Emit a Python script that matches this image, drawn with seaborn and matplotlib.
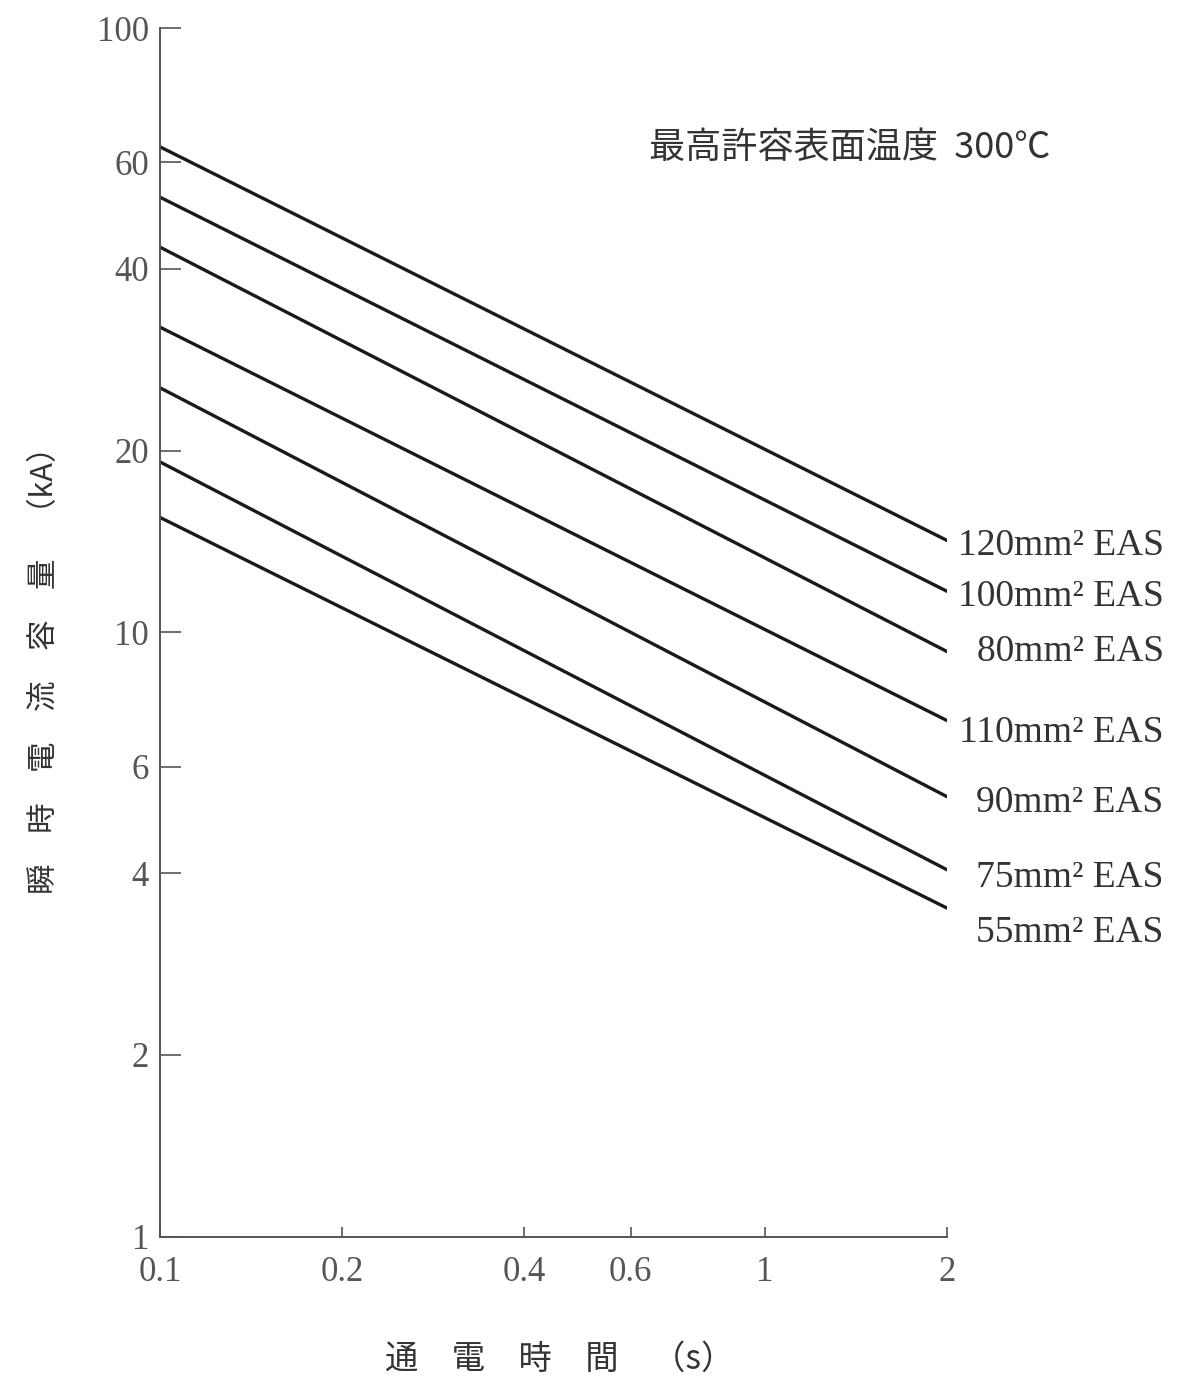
import numpy as np
import pandas as pd
import matplotlib
matplotlib.use("Agg")
import matplotlib.pyplot as plt
import seaborn as sns

# data (current in kA at t = 0.1 s and t = 2 s)
series = ["120mm² EAS", "100mm² EAS", "80mm² EAS", "110mm² EAS",
          "90mm² EAS", "75mm² EAS", "55mm² EAS"]
t_points = [0.1, 2.0]
i_start = [63.6, 52.5, 43.4, 32.0, 25.4, 19.15, 15.5]
i_end = [14.2, 11.7, 9.3, 7.15, 5.35, 4.05, 3.5]

x_ticks = [0.1, 0.2, 0.4, 0.6, 1, 2]
x_ticklabels = ["0.1", "0.2", "0.4", "0.6", "1", "2"]
y_ticks = [1, 2, 4, 6, 10, 20, 40, 60, 100]
y_ticklabels = ["1", "2", "4", "6", "10", "20", "40", "60", "100"]

rows = []
for name, a, b in zip(series, i_start, i_end):
    rows.append({"series": name, "t": t_points[0], "I": a})
    rows.append({"series": name, "t": t_points[1], "I": b})
df = pd.DataFrame(rows)

sns.set_style("white")
plt.rcParams["font.family"] = ["Liberation Serif", "Noto Sans CJK JP", "DejaVu Sans"]

fig = plt.figure(figsize=(11.81, 13.81), dpi=100)
ax = fig.add_axes([0.1355, 0.1043, 0.8019 - 0.1355, 0.9797 - 0.1043])

sns.lineplot(data=df, x="t", y="I", hue="series", palette=["#1a1a1a"] * len(series),
             linewidth=2.4, legend=False, ax=ax)

ax.set_xscale("log")
ax.set_yscale("log")
ax.set_xlim(0.1, 2)
ax.set_ylim(1, 100)
ax.set_xticks(x_ticks)
ax.set_xticklabels(x_ticklabels)
ax.set_yticks(y_ticks)
ax.set_yticklabels(y_ticklabels)
ax.minorticks_off()
ax.set_xlabel("")
ax.set_ylabel("")

for s in ["top", "right"]:
    ax.spines[s].set_visible(False)
for s in ["left", "bottom"]:
    ax.spines[s].set_color("#555555")
    ax.spines[s].set_linewidth(1.4)

ax.tick_params(axis="y", left=True, direction="in", length=15, width=1.2, color="#555555",
               labelsize=25, labelcolor="#555555", pad=8)
ax.tick_params(axis="x", bottom=True, direction="in", length=7, width=1.2, color="#555555",
               labelsize=25, labelcolor="#555555", pad=14)

# end-of-line labels (offsets in points from each line's end)
dy = [-4, -4, 0, -9, -4, -6, -18]
for name, b, d in zip(series, i_end, dy):
    ax.annotate(name, xy=(t_points[1], b), xytext=(156, d), textcoords="offset points",
                ha="right", va="center", fontsize=27, color="#333333")

ax.text(1.131, 0.9007, "最高許容表面温度  300℃", transform=ax.transAxes,
        ha="right", va="center", fontsize=26, color="#333333",
        family=["Noto Sans CJK JP", "DejaVu Sans"])

fig.text(0.038, 0.52, "瞬　時　電　流　容　量　（kA）", rotation=90,
         ha="center", va="center", fontsize=22, color="#333333",
         family=["Noto Sans CJK JP", "DejaVu Sans"])
fig.text(0.474, 0.016, "通　電　時　間　（s）",
         ha="center", va="center", fontsize=24, color="#333333",
         family=["Noto Sans CJK JP", "DejaVu Sans"])

fig.savefig("out.png", dpi=100, facecolor="white")
